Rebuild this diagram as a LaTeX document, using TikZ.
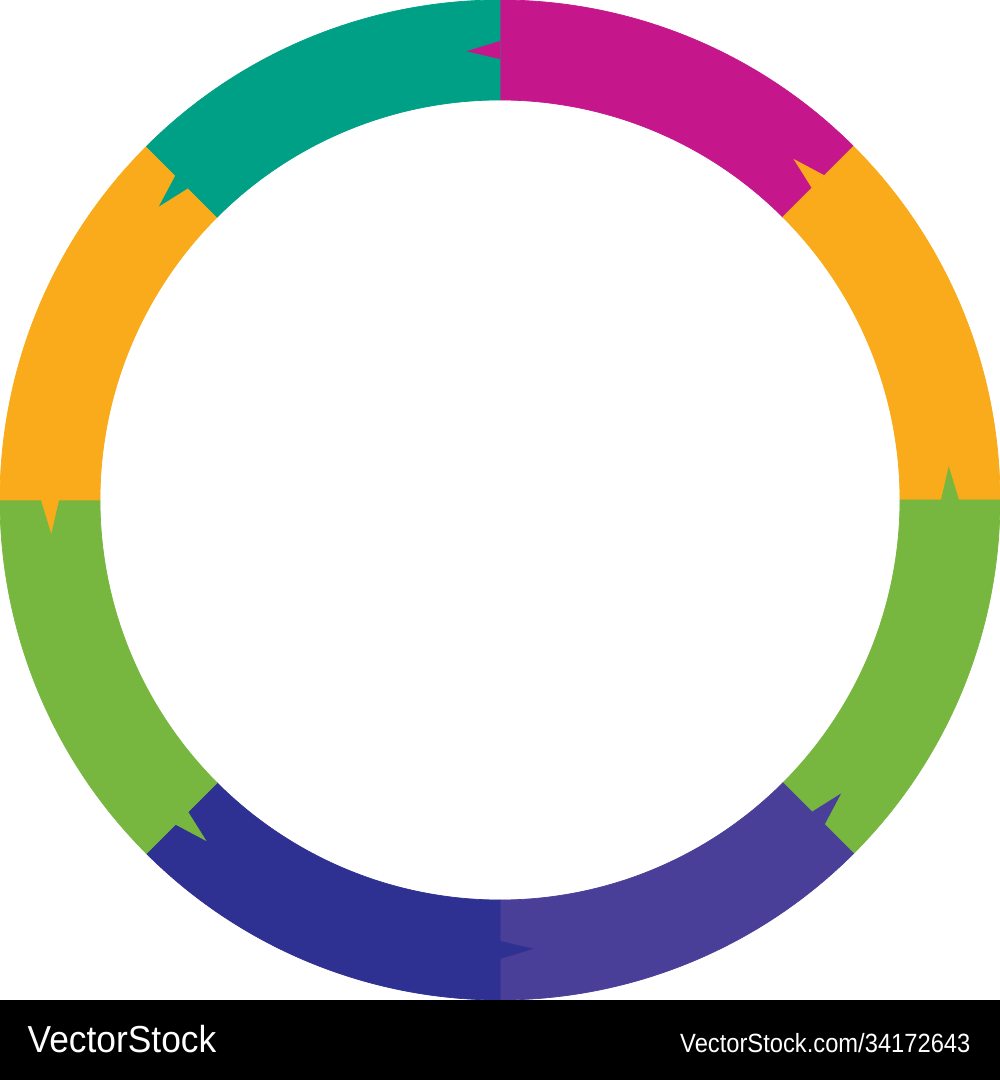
\documentclass[tikz,border=0pt]{standalone}
\usepackage{fontspec}
\setmainfont{Liberation Sans}
\usetikzlibrary{positioning}

\definecolor{ring_magenta}{HTML}{C5168C}
\definecolor{ring_orange}{HTML}{F9AB1B}
\definecolor{ring_green}{HTML}{77B73F}
\definecolor{ring_purple}{HTML}{4A3F98}
\definecolor{ring_blue}{HTML}{2E3192}
\definecolor{ring_teal}{HTML}{00A086}

\begin{document}
\begin{tikzpicture}[every node/.style = {inner sep=0pt, text=white},
                    band/.style = {line width=0.2pt, draw=#1, fill=#1}]
            \useasboundingbox (-5,-5.8) rectangle (5,5);

            % ring segments
            \foreach \a/\b/\c in {90/45/ring_magenta, 45/0/ring_orange, 0/-45/ring_green,
                                  -45/-90/ring_purple, -90/-135/ring_blue, -135/-180/ring_green,
                                  180/135/ring_orange, 135/90/ring_teal}
                \path[band=\c] (\a:5) arc[start angle=\a, end angle=\b, radius=5]
                    -- (\b:4) arc[start angle=\b, end angle=\a, radius=4] -- cycle;

            % spikes
            \foreach \a/\c in {90/ring_magenta, 45/ring_orange, 0/ring_green, -45/ring_purple,
                               -90/ring_blue, -135/ring_green, 180/ring_orange, 135/ring_teal}
                \fill[\c] (\a:4.41) -- (\a+4.3:4.5) -- (\a:4.59) -- cycle;

            % bottom bar
            \fill[black] (-5,-5) rectangle (5,-5.8);
            \node (q_brand) [anchor=base west, xscale=0.94] at (-4.73,-5.52)
                {\fontsize{10.7}{12}\selectfont VectorStock};
            \node (q_id) [anchor=base east, xscale=0.9] at (4.71,-5.52)
                {\fontsize{7.5}{9}\selectfont VectorStock.com/34172643};
        \end{tikzpicture}
\end{document}
